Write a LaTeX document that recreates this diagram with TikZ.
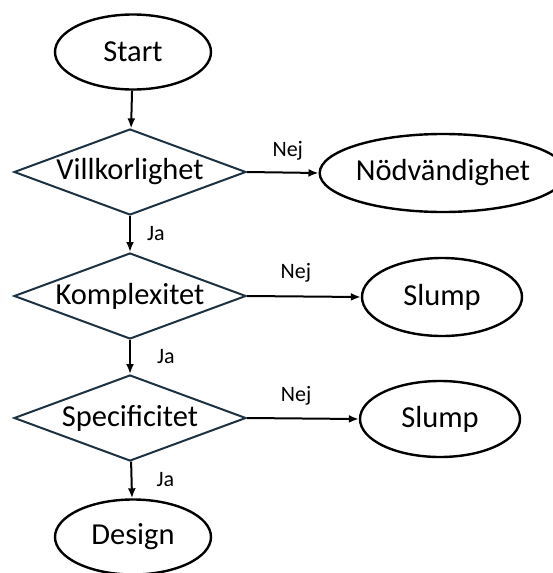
\documentclass[tikz,border=0pt]{standalone}
\usepackage{fontspec}
\setmainfont{Carlito}
\usetikzlibrary{shapes.geometric,arrows.meta}

\begin{document}
\begin{tikzpicture}[x=1pt,y=-1pt]
    % Define colors
    \definecolor{diamondline}{RGB}{28, 50, 66}

    \tikzset{
        terminal/.style={ellipse, draw=black, line width=2.4pt, minimum width=156pt, minimum height=75pt, inner sep=0pt, font=\fontsize{30.5}{30}\selectfont},
        decision/.style={diamond, draw=diamondline, line width=2pt, minimum width=232pt, minimum height=86pt, shape aspect=2.7, inner sep=0pt, font=\fontsize{30.5}{30}\selectfont},
        flow/.style={-{Latex[length=10pt,width=8pt]}, line width=2pt},
        tag/.style={inner sep=0pt, font=\fontsize{22}{22}\selectfont}
    }

    \useasboundingbox (0,0) rectangle (552,573);

    % Main column
    \node[terminal] (start) at (133,52) {Start};
    \node[decision] (villkor) at (130,172) {Villkorlighet};
    \node[decision] (komplex) at (130,296) {Komplexitet};
    \node[decision] (specif) at (130,418) {Specificitet};
    \node[terminal] (design) at (133,537) {Design};

    % Side outcomes
    \node[terminal, minimum width=214pt, minimum height=78pt] (nodv) at (443,173) {Nödvändighet};
    \node[terminal, minimum width=160pt, minimum height=78pt] (slumpa) at (442,297) {Slump};
    \node[terminal, minimum width=160pt, minimum height=76pt] (slumpb) at (440,419) {Slump};

    % Down arrows
    \draw[flow] (start) -- (villkor);
    \draw[flow] (villkor) -- node[tag, right=16pt] {Ja} (komplex);
    \draw[flow] (komplex) -- node[tag, right=26pt] {Ja} (specif);
    \draw[flow] (specif) -- node[tag, right=24pt] {Ja} (design);

    % Side arrows
    \draw[flow] (villkor.east) -- node[tag, pos=0.57, yshift=22pt] {Nej} (nodv.west);
    \draw[flow] (komplex.east) -- node[tag, pos=0.43, yshift=24pt] {Nej} (slumpa.west);
    \draw[flow] (specif.east) -- node[tag, pos=0.44, yshift=23pt] {Nej} (slumpb.west);

\end{tikzpicture}
\end{document}
